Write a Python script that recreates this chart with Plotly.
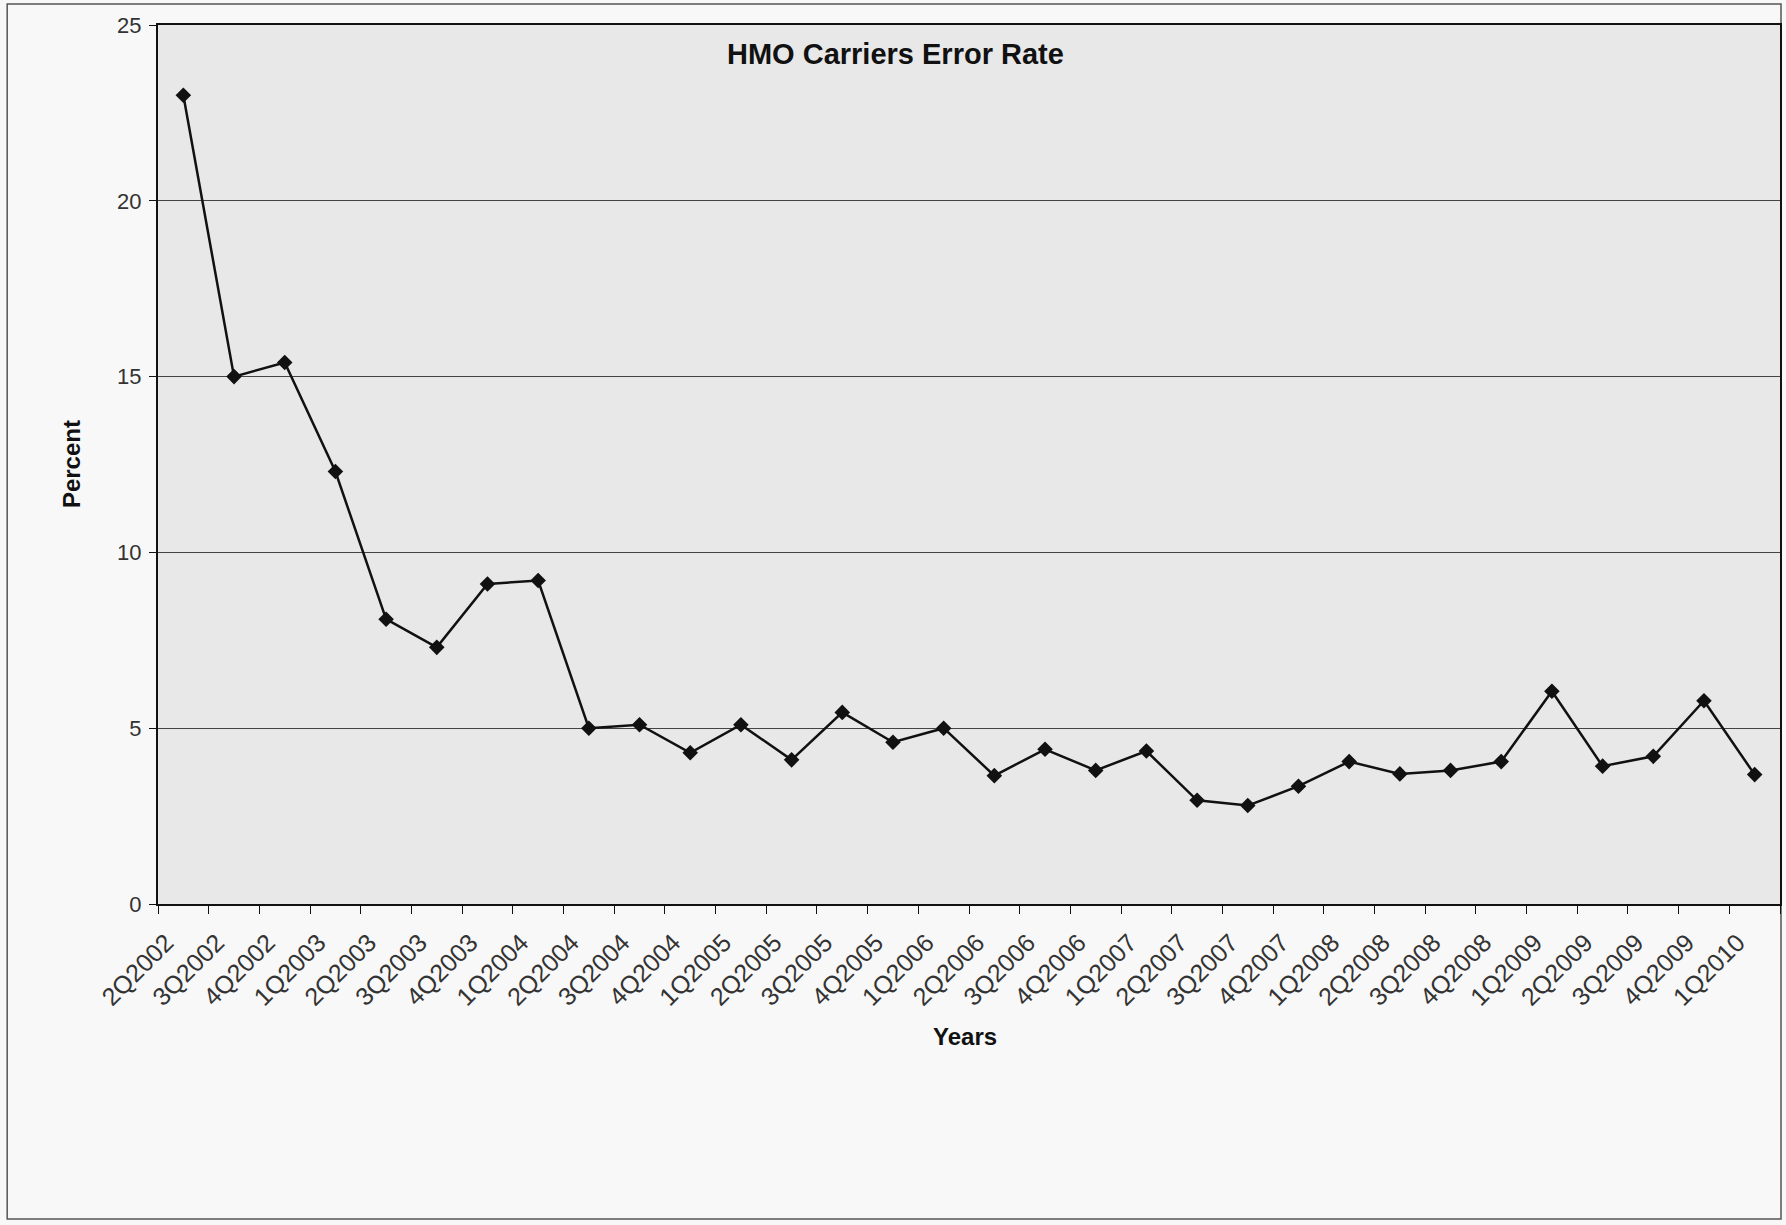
import plotly.graph_objects as go

quarters = ["2Q2002", "3Q2002", "4Q2002", "1Q2003", "2Q2003", "3Q2003", "4Q2003", "1Q2004",
            "2Q2004", "3Q2004", "4Q2004", "1Q2005", "2Q2005", "3Q2005", "4Q2005", "1Q2006",
            "2Q2006", "3Q2006", "4Q2006", "1Q2007", "2Q2007", "3Q2007", "4Q2007", "1Q2008",
            "2Q2008", "3Q2008", "4Q2008", "1Q2009", "2Q2009", "3Q2009", "4Q2009", "1Q2010"]
error_rate = [23.0, 15.0, 15.4, 12.3, 8.1, 7.3, 9.1, 9.2,
              5.0, 5.1, 4.3, 5.1, 4.1, 5.45, 4.6, 5.0,
              3.65, 4.4, 3.8, 4.35, 2.95, 2.8, 3.35, 4.05,
              3.7, 3.8, 4.05, 6.05, 3.92, 4.2, 5.78, 3.68]
y_ticks = [0, 5, 10, 15, 20, 25]

W, H = 1786, 1225
L, R, T, B = 158, 1782, 25, 904
pw, ph = R - L, B - T

def px(x):
    return (x - L) / pw

def py(y):
    return (B - y) / ph

fig = go.Figure()
fig.add_trace(go.Scatter(
    x=quarters, y=error_rate, mode="lines+markers",
    line=dict(color="#111111", width=2.5),
    marker=dict(symbol="diamond", size=12, color="#111111"),
    showlegend=False,
))

font = "Liberation Sans, Arial, sans-serif"
fig.update_layout(
    width=W, height=H,
    margin=dict(l=L, r=W - R, t=T, b=H - B),
    paper_bgcolor="#f8f8f8",
    plot_bgcolor="#e8e8e8",
    font=dict(family=font, color="#222222", size=21),
    xaxis=dict(
        type="category", tickson="boundaries", range=[-0.5, len(quarters) - 0.5],
        tickangle=-45, ticks="outside", ticklen=8, tickcolor="#111111",
        showline=True, linecolor="#111111", linewidth=2, mirror=True,
        showgrid=False, tickfont=dict(size=25, color="#333333"),
        ticklabelstandoff=12, ticklabelshift=-17,
    ),
    yaxis=dict(
        range=[0, 25], tickvals=y_ticks, ticks="outside", ticklen=7, tickcolor="#111111",
        showline=True, linecolor="#111111", linewidth=2, mirror=True,
        showgrid=True, gridcolor="#444444", gridwidth=1, zeroline=False,
        tickfont=dict(size=22, color="#333333"), ticklabelstandoff=3,
    ),
    annotations=[
        dict(text="<b>HMO Carriers Error Rate</b>", x=px(896), y=py(54), xref="paper", yref="paper",
             showarrow=False, font=dict(size=29, color="#111111"), xanchor="center", yanchor="middle"),
        dict(text="<b>Percent</b>", x=px(71), y=py(464), xref="paper", yref="paper", textangle=-90,
             showarrow=False, font=dict(size=24, color="#111111"), xanchor="center", yanchor="middle"),
        dict(text="<b>Years</b>", x=px(966), y=py(1036), xref="paper", yref="paper",
             showarrow=False, font=dict(size=24, color="#111111"), xanchor="center", yanchor="middle"),
    ],
    shapes=[
        dict(type="rect", xref="paper", yref="paper", x0=px(7), x1=px(1783), y0=py(1219), y1=py(4),
             line=dict(color="#555555", width=1.5), fillcolor="rgba(0,0,0,0)", layer="below"),
    ],
)

fig.write_html("out.html")
